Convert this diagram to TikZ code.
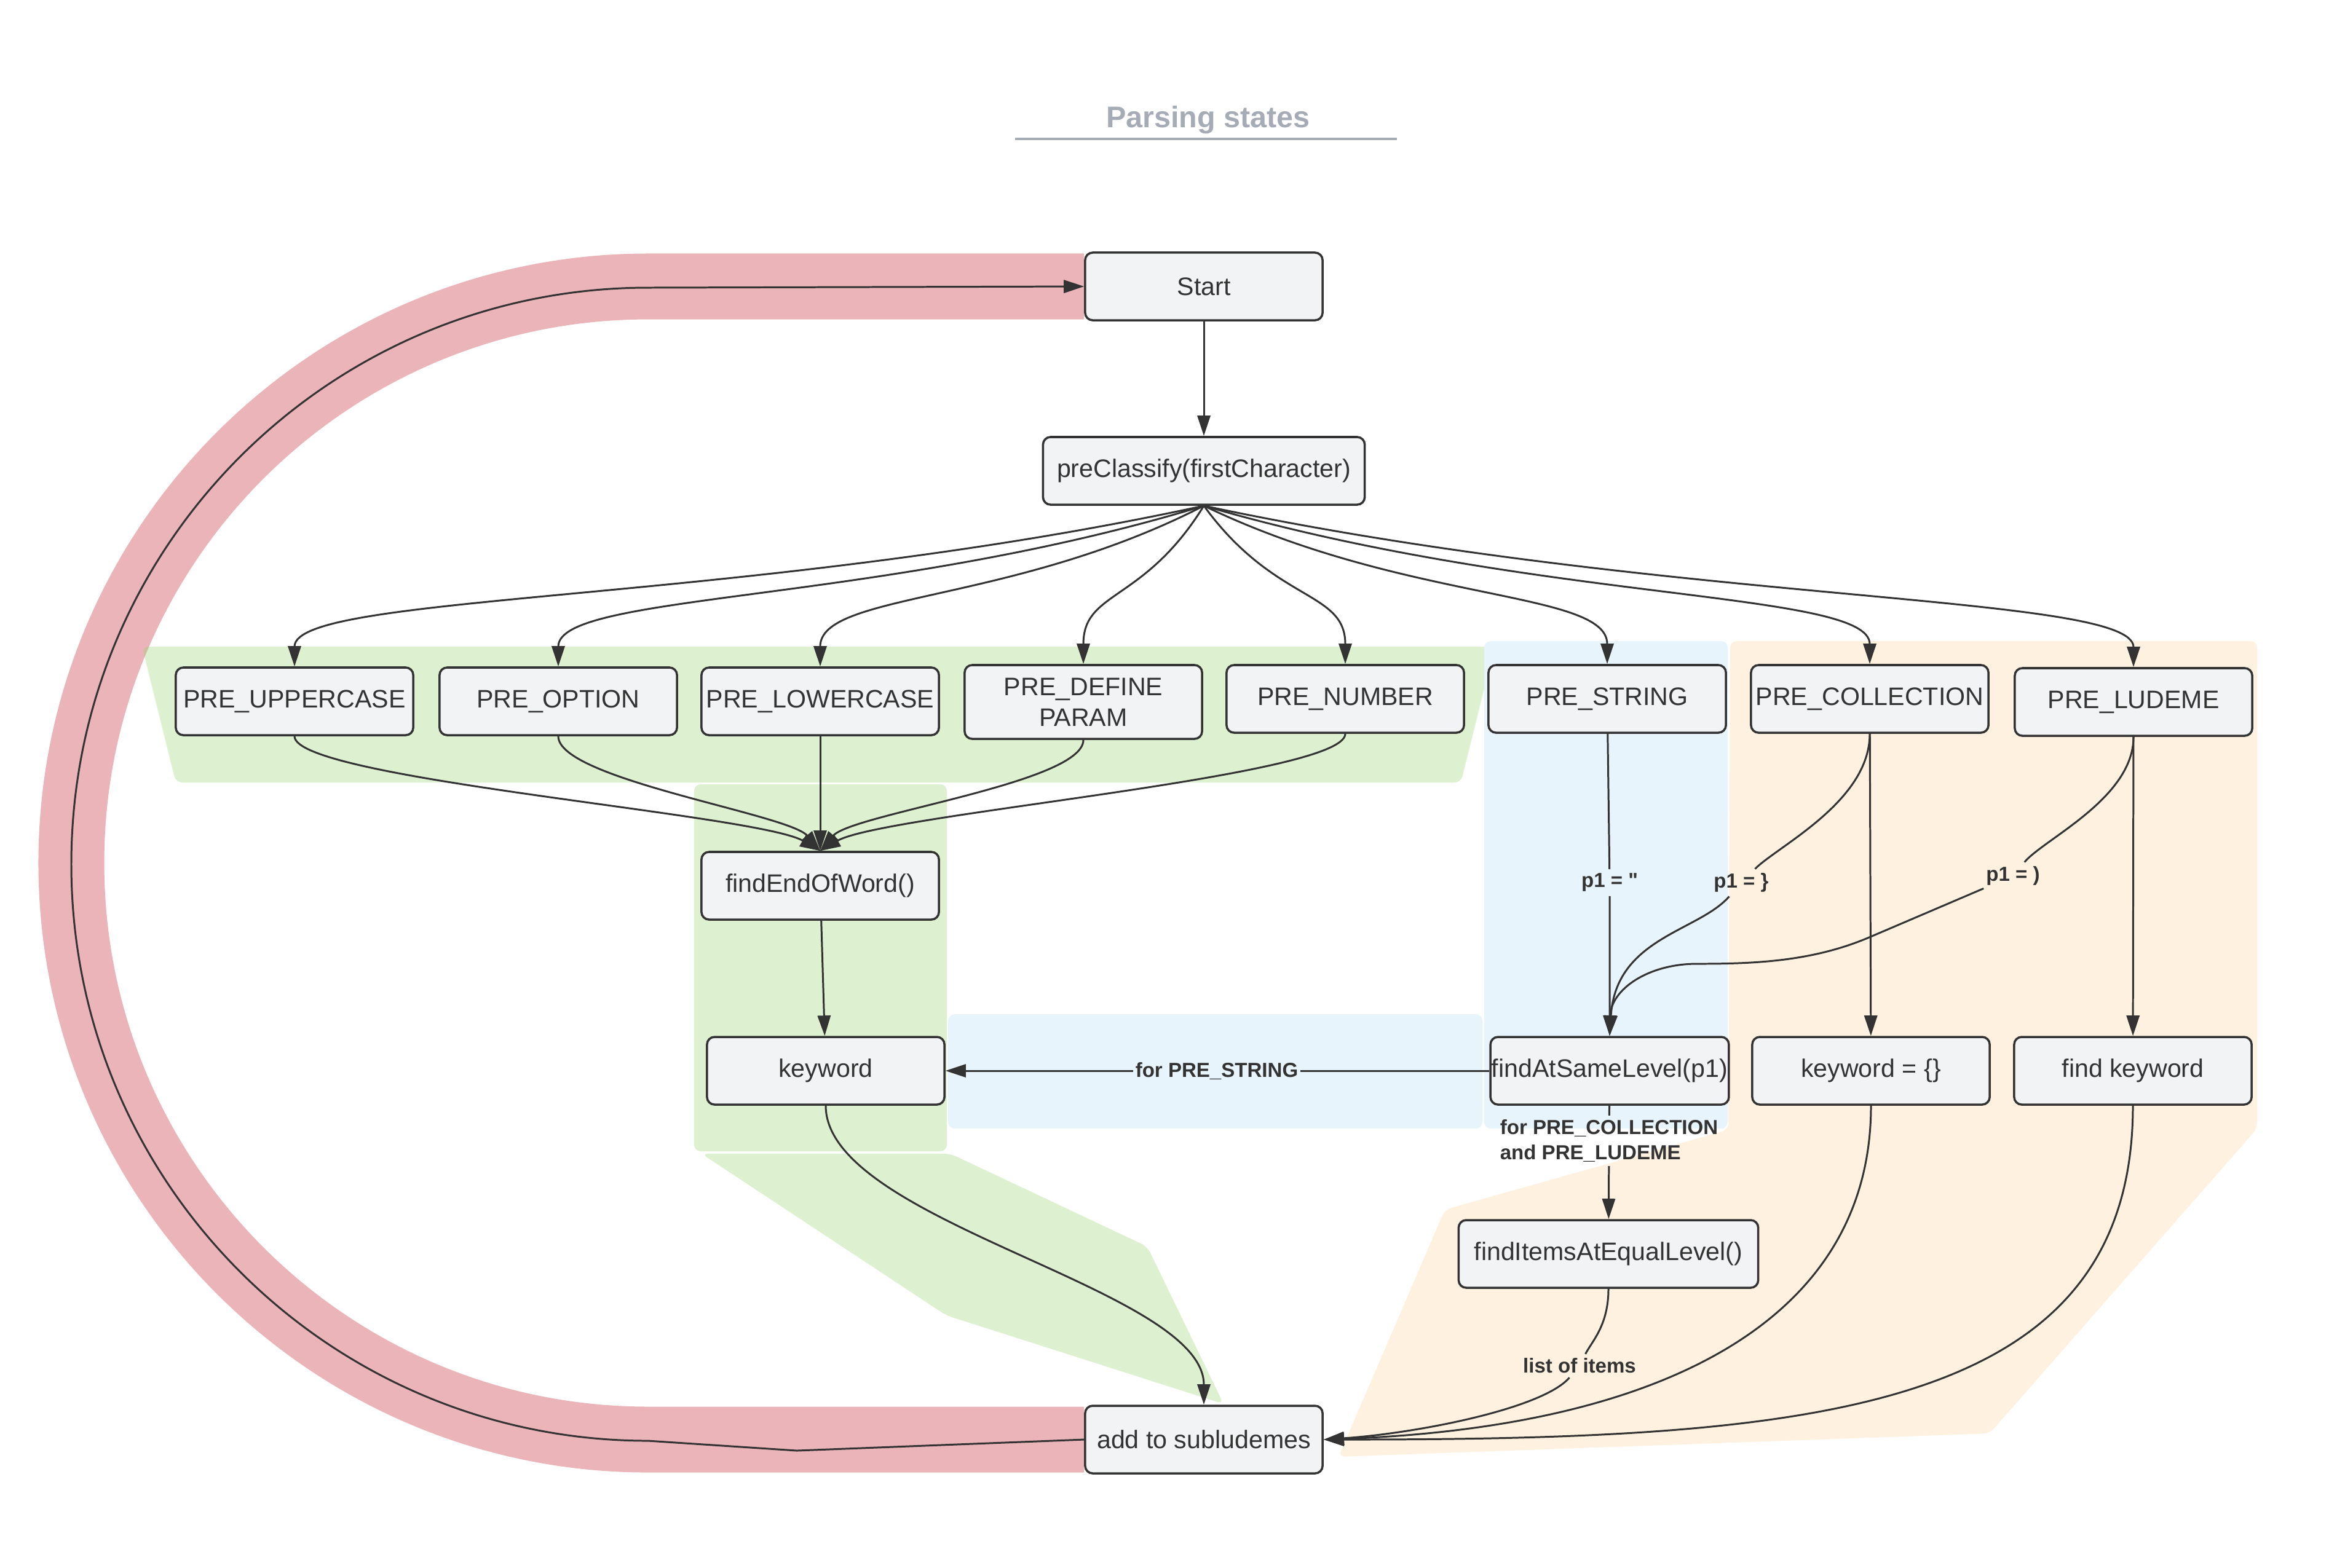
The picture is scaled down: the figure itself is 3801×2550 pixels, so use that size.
\documentclass[tikz,border=0pt]{standalone}
\usepackage{fontspec}
\setmainfont{Liberation Sans}
\usepackage{xcolor}
\usepackage{tikz}
\usetikzlibrary{arrows.meta}
\usetikzlibrary{calc}
\usetikzlibrary{backgrounds}

\definecolor{inkgray}{HTML}{333333}
\definecolor{boxfill}{HTML}{F2F3F5}
\definecolor{titlegray}{HTML}{A5ACB5}
\definecolor{loopred}{HTML}{EBB4B9}
\definecolor{wordgreen}{RGB}{149,208,108}
\definecolor{stringblue}{HTML}{E8F4FB}
\definecolor{listorange}{HTML}{FEF1E0}

\begin{document}
\begin{tikzpicture}[x=0.01cm, y=0.01cm]
        \tikzset{
            state/.style={
                draw=inkgray, fill=boxfill, line width=1pt,
                rounded corners=3.5pt, align=center, text=inkgray,
                minimum width=3.86cm, minimum height=1.1cm, inner sep=0.5pt,
                font=\fontsize{11.7}{14.2}\selectfont,
            },
            conn/.style={draw=inkgray, line width=0.85pt, -{Triangle[length=9.4pt,width=6pt]}},
            edgelabel/.style={
                text=inkgray, inner xsep=1pt, inner ysep=1.8pt,
                font=\bfseries\fontsize{9.4}{11.4}\selectfont,
            },
            region/.style={rounded corners=3pt},
        }
        \useasboundingbox (0,0) rectangle (3801,-2550);

        % title
        \node[anchor=base, text=titlegray, font=\bfseries\fontsize{13.8}{16}\selectfont] (title) at (1965,-207) {Parsing states};
        \draw[titlegray, line width=1.1pt] (1651,-226) -- (2272,-226);

        % states
        \node[state] (start) at (1958,-466) {Start};
        \node[state, minimum width=5.23cm] (pre) at (1958,-766) {preClassify(firstCharacter)};

        \node[state] (upper) at (479,-1141) {PRE\_UPPERCASE};
        \node[state] (option) at (908,-1141) {PRE\_OPTION};
        \node[state] (lower) at (1334,-1141) {PRE\_LOWERCASE};
        \node[state, minimum height=1.2cm] (define) at (1762,-1142) {PRE\_DEFINE\\PARAM};
        \node[state] (number) at (2188,-1137) {PRE\_NUMBER};
        \node[state] (string) at (2614,-1137) {PRE\_STRING};
        \node[state] (coll) at (3041,-1137) {PRE\_COLLECTION};
        \node[state] (ludeme) at (3470,-1142) {PRE\_LUDEME};

        \node[state] (fewo) at (1334,-1441) {findEndOfWord()};
        \node[state] (kw) at (1343,-1742) {keyword};
        \node[state] (fasl) at (2618,-1742) {findAtSameLevel(p1)};
        \node[state] (kwc) at (3043,-1742) {keyword = \{\}};
        \node[state] (fkw) at (3469,-1742) {find keyword};
        \node[state, minimum width=4.87cm] (fiael) at (2616,-2040) {findItemsAtEqualLevel()};
        \node[state] (add) at (1958,-2342) {add to subludemes};

        % labels on the connectors
        \node[edgelabel] (pquote) at (2618,-1436) {p1 = {\addfontfeatures{Ligatures=TeXOff}"}};
        \node[edgelabel] (pbrace) at (2832,-1436) {p1 = \}};
        \node[edgelabel] (pparen) at (3274,-1425) {p1 = )};
        \node[edgelabel] (forstr) at (1979,-1742) {for PRE\_STRING};
        \node[edgelabel, align=left] (forcoll) at (2617,-1856) {for PRE\_COLLECTION\\and PRE\_LUDEME};
        \node[edgelabel] (items) at (2569,-2222) {list of items};

        % coloured groups
        \begin{scope}[on background layer]
            \draw[loopred, line width=1.07cm] (start.west) -- (1054,-466)
                arc[start angle=90, end angle=270, radius=938] -- (add.west);
            \begin{scope}[fill opacity=0.32]
                \fill[wordgreen, region] (231,-1052) -- (2431,-1052) -- (2376,-1273) -- (286,-1273) -- cycle;
                \fill[wordgreen, region] (1129,-1276) rectangle (1540,-1873);
                \fill[wordgreen, region] (1141,-1877) -- (1546,-1877) -- (1866,-2028) -- (1990,-2284) -- (1539,-2140) -- cycle;
            \end{scope}
            \fill[stringblue, region] (2414,-1043) rectangle (2810,-1836);
            \fill[stringblue, region] (1542,-1650) rectangle (2411,-1836);
            \fill[listorange, region] (2814,-1043) -- (3671,-1043) -- (3671,-1836) -- (3236,-2332)
                -- (2177,-2370) -- (2350,-1968) -- (2811,-1838) -- cycle;
        \end{scope}

        % connectors
        \draw[conn] (start) -- (pre);
        \foreach \t in {upper,option,lower,define,number,string,coll,ludeme}
            \draw[conn] (pre.south) .. controls ($(pre.south)!.5!(\t.north)+(0,-30)$)
                and ($(\t.north)+(0,120)$) .. (\t.north);

        \foreach \s in {upper,option,define,number}
            \draw[conn] (\s.south) .. controls +(0,-70)
                and ($(fewo.north)!.12!(\s.south |- fewo.north)+(0,60)$) .. (fewo.north);
        \draw[conn] (lower) -- (fewo);
        \draw[conn] (fewo) -- (kw);
        \draw[conn] (kw.south) .. controls +(0,-190) and +(0,190) .. (add.north);

        \draw[conn] (string) -- (pquote) -- (fasl);
        \draw[conn] (coll.south) .. controls +(0,-110) and +(60,60) .. (pbrace)
            .. controls +(-70,-80) and +(10,160) .. (fasl.north);
        \draw[conn] (ludeme.south) .. controls +(0,-100) and +(50,60) .. (pparen)
            -- (3040,-1525) .. controls (2946,-1565) and (2850,-1568) .. (2760,-1568)
            .. controls (2680,-1568) and (2620,-1610) .. (fasl.north);
        \draw[conn] (coll) -- (kwc);
        \draw[conn] (ludeme) -- (fkw);

        \draw[conn] (fasl) -- (forstr) -- (kw);
        \draw[conn] (fasl) -- (forcoll) -- (fiael);
        \draw[conn] (fiael.south) .. controls +(0,-60) and +(20,40) .. (items)
            .. controls +(-60,-70) and +(150,10) .. (add.east);
        \draw[conn] (kwc.south) .. controls +(0,-350) and +(550,20) .. (add.east);
        \draw[conn] (fkw.south) .. controls +(0,-500) and +(800,0) .. (add.east);

        % back to the start
        \draw[conn] (add.west) -- (1296,-2360) -- (1054,-2344)
            arc[start angle=270, end angle=90, radius=938] -- (start.west);
\end{tikzpicture}
\end{document}
